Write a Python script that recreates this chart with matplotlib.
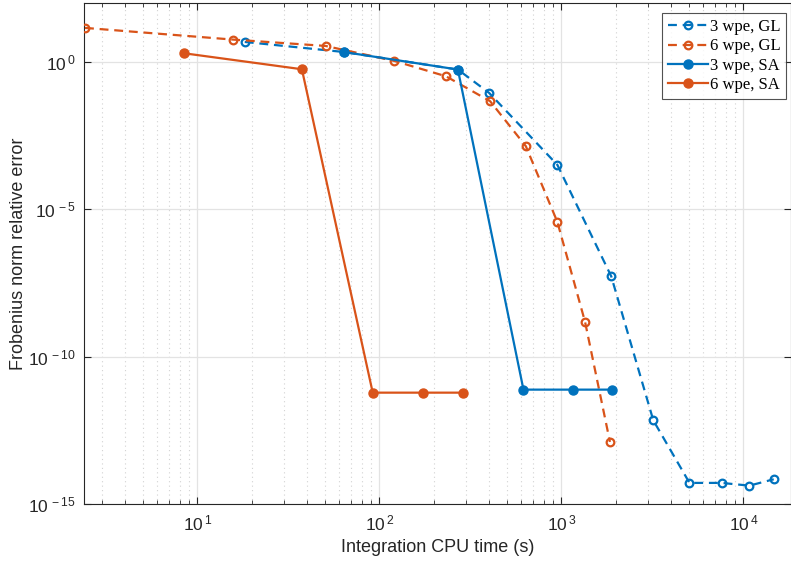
import math
import matplotlib
matplotlib.use("Agg")
import matplotlib.pyplot as plt
from matplotlib.ticker import NullFormatter, FixedLocator, FuncFormatter

# CPU time (s) and Frobenius-norm relative error for each integration scheme
t_gl3 = [18.2, 63.5, 270, 401, 951, 1880, 3200, 5060, 7590, 10790, 14690]
e_gl3 = [4.77, 2.18, 0.552, 0.0887, 3.2e-4, 5.3e-8, 6.9e-13, 5.2e-15, 5.2e-15, 4.2e-15, 6.9e-15]

t_gl6 = [2.41, 15.6, 50.6, 120.8, 232, 406, 638, 951, 1350, 1849]
e_gl6 = [14.3, 5.75, 3.49, 1.08, 0.327, 0.0464, 1.38e-3, 3.7e-6, 1.5e-9, 1.28e-13]

t_sa3 = [63.5, 270, 619, 1164, 1888]
e_sa3 = [2.18, 0.552, 7.6e-12, 7.6e-12, 7.6e-12]

t_sa6 = [8.44, 37.5, 91.9, 174, 289]
e_sa6 = [1.97, 0.565, 6.0e-12, 6.0e-12, 6.0e-12]

labels = ["3 wpe, GL", "6 wpe, GL", "3 wpe, SA", "6 wpe, SA"]
xticks = [1e1, 1e2, 1e3, 1e4]
yticks = [1e-15, 1e-10, 1e-5, 1e0]

blue = "#0072BD"
orange = "#D95319"
axcol = "#262626"

plt.rcParams["font.family"] = ["Liberation Sans", "DejaVu Sans"]
plt.rcParams["mathtext.fontset"] = "custom"
plt.rcParams["mathtext.rm"] = "Liberation Sans"
plt.rcParams["mathtext.it"] = "Liberation Sans:italic"
plt.rcParams["axes.unicode_minus"] = False

fig = plt.figure(figsize=(7.91, 5.67), dpi=100)
ax = fig.add_axes([84 / 791, 63 / 567, 707 / 791, 501 / 567])

dash = (0, (4, 2.6))
ax.plot(t_gl3, e_gl3, color=blue, ls=dash, lw=1.6, marker="o", ms=5.5,
        mfc="none", mew=1.6, label=labels[0], zorder=3)
ax.plot(t_gl6, e_gl6, color=orange, ls=dash, lw=1.6, marker="o", ms=5.5,
        mfc="none", mew=1.6, label=labels[1], zorder=3)
ax.plot(t_sa3, e_sa3, color=blue, ls="-", lw=1.6, marker="o", ms=6.5,
        label=labels[2], zorder=4)
ax.plot(t_sa6, e_sa6, color=orange, ls="-", lw=1.6, marker="o", ms=6.5,
        label=labels[3], zorder=4)

ax.set_xscale("log")
ax.set_yscale("log")
ax.set_xlim(2.38, 18280)
ax.set_ylim(1e-15, 1e2)


def pow10(v, pos):
    exp = int(round(math.log10(v)))
    return r"$\mathregular{10^{\,%d}}$" % exp


x_minor = [m * 10.0 ** d for d in range(0, 5) for m in range(2, 10)]
ax.xaxis.set_major_locator(FixedLocator(xticks))
ax.xaxis.set_minor_locator(FixedLocator(x_minor))
ax.xaxis.set_major_formatter(FuncFormatter(pow10))
ax.xaxis.set_minor_formatter(NullFormatter())
ax.yaxis.set_major_locator(FixedLocator(yticks))
ax.yaxis.set_major_formatter(FuncFormatter(pow10))
ax.yaxis.set_minor_locator(FixedLocator([]))

ax.grid(True, which="major", color="#e3e3e3", lw=0.9, ls="-")
ax.grid(True, which="minor", axis="x", color="#d2d2d2", lw=0.8, ls=(0, (1, 3)))
ax.set_axisbelow(True)

for s in ax.spines.values():
    s.set_color(axcol)
    s.set_linewidth(0.8)
ax.tick_params(which="both", direction="in", top=True, right=True,
               colors=axcol, labelsize=12.5)
ax.tick_params(which="major", length=5, width=0.8)
ax.tick_params(which="minor", length=3, width=0.6)
ax.tick_params(axis="x", pad=7)
ax.tick_params(axis="y", pad=6)

ax.set_xlabel("Integration CPU time (s)", fontsize=13, color=axcol, labelpad=4)
ax.set_ylabel("Frobenius norm relative error", fontsize=13, color=axcol)
ax.yaxis.set_label_coords(-0.081, 0.5)

leg = ax.legend(loc="upper right", bbox_to_anchor=(0.9935, 0.9795),
                prop={"family": "Liberation Serif", "size": 12},
                frameon=True, fancybox=False, edgecolor=axcol,
                handlelength=2.4, handletextpad=0.12, borderpad=0.35,
                labelspacing=0.2, borderaxespad=0.0)
leg.get_frame().set_linewidth(0.8)

fig.savefig("out.png", dpi=100)
